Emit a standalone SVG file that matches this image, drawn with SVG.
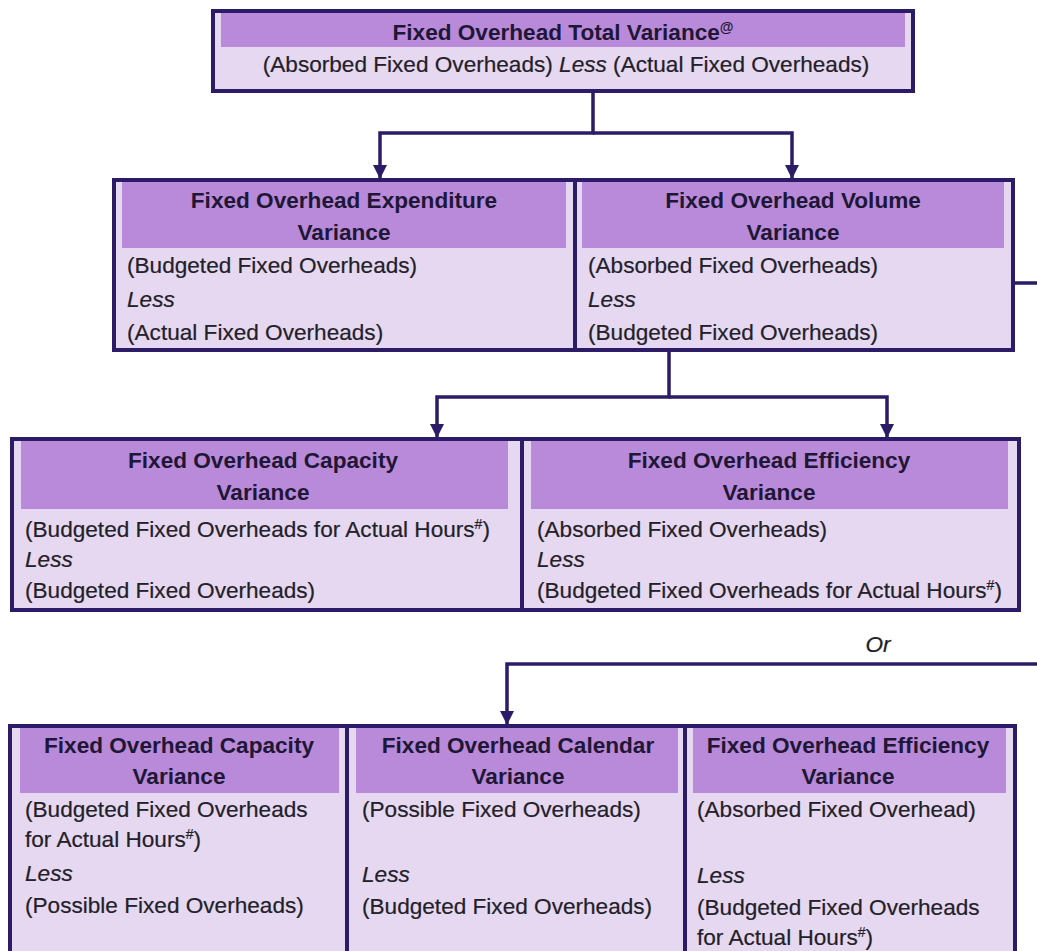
<svg xmlns="http://www.w3.org/2000/svg" width="1037" height="951" viewBox="0 0 1037 951">
  <style>
    .box { fill: #e6d8f1; stroke: #2c1c68; stroke-width: 4; }
    .band { fill: #b98ad9; }
    .hd { font-family: "Liberation Sans", Arial, sans-serif; font-size: 22.6px; font-weight: bold; fill: #1e1736; text-anchor: middle; }
    .bd { font-family: "Liberation Sans", Arial, sans-serif; font-size: 22.6px; fill: #222028; stroke: #222028; stroke-width: 0.2; }
    .it { font-style: italic; }
    .sup { font-size: 14px; }
    .wire { fill: none; stroke: #2c1c68; stroke-width: 3.5; }
  </style>
  <defs>
    <marker id="arrow" markerUnits="userSpaceOnUse" markerWidth="14" markerHeight="14" viewBox="0 0 14 14" refX="13" refY="7" orient="auto">
      <path d="M0,0 L14,7 L0,14 Z" fill="#2c1c68"/>
    </marker>
  </defs>

  <rect width="1037" height="951" fill="#ffffff"/>

  <!-- connectors -->
  <g id="connectors">
    <path class="wire" d="M593,93 V133 H380 V178" marker-end="url(#arrow)"/>
    <path class="wire" d="M593,133 H792 V178" marker-end="url(#arrow)"/>
    <path class="wire" d="M669,352 V397 H437 V437" marker-end="url(#arrow)"/>
    <path class="wire" d="M669,397 H887 V437" marker-end="url(#arrow)"/>
    <path class="wire" d="M1015,283 H1040"/>
    <path class="wire" d="M1040,664 H507 V724" marker-end="url(#arrow)"/>
    <text class="bd it" x="878" y="652" font-size="20" text-anchor="middle">Or</text>
  </g>

  <!-- total variance -->
  <g id="total">
    <rect class="box" x="213" y="11" width="700" height="80"/>
    <rect class="band" x="221" y="13" width="684" height="34"/>
    <text class="hd" x="563" y="40">Fixed Overhead Total Variance<tspan class="sup" dy="-8">@</tspan></text>
    <text class="bd" x="566" y="72" text-anchor="middle">(Absorbed Fixed Overheads) <tspan class="it">Less</tspan> (Actual Fixed Overheads)</text>
  </g>

  <!-- expenditure variance -->
  <g id="expenditure">
    <rect class="box" x="114" y="180" width="461" height="170"/>
    <rect class="band" x="122" y="182" width="444" height="66"/>
    <text class="hd" x="344" y="208">Fixed Overhead Expenditure</text>
    <text class="hd" x="344" y="240">Variance</text>
    <text class="bd" x="127" y="273">(Budgeted Fixed Overheads)</text>
    <text class="bd it" x="127" y="307">Less</text>
    <text class="bd" x="127" y="340">(Actual Fixed Overheads)</text>
  </g>

  <!-- volume variance -->
  <g id="volume">
    <rect class="box" x="575" y="180" width="438" height="170"/>
    <rect class="band" x="582" y="182" width="422" height="66"/>
    <text class="hd" x="793" y="208">Fixed Overhead Volume</text>
    <text class="hd" x="793" y="240">Variance</text>
    <text class="bd" x="588" y="273">(Absorbed Fixed Overheads)</text>
    <text class="bd it" x="588" y="307">Less</text>
    <text class="bd" x="588" y="340">(Budgeted Fixed Overheads)</text>
  </g>

  <!-- capacity variance (volume split) -->
  <g id="capacity-a">
    <rect class="box" x="12" y="439" width="510" height="171"/>
    <rect class="band" x="21" y="441" width="487" height="68"/>
    <text class="hd" x="263" y="468">Fixed Overhead Capacity</text>
    <text class="hd" x="263" y="500">Variance</text>
    <text class="bd" x="25" y="537">(Budgeted Fixed Overheads for Actual Hours<tspan class="sup" dy="-8">#</tspan><tspan dy="8">)</tspan></text>
    <text class="bd it" x="25" y="567">Less</text>
    <text class="bd" x="25" y="598">(Budgeted Fixed Overheads)</text>
  </g>

  <!-- efficiency variance (volume split) -->
  <g id="efficiency-a">
    <rect class="box" x="522" y="439" width="497" height="171"/>
    <rect class="band" x="531" y="441" width="477" height="68"/>
    <text class="hd" x="769" y="468">Fixed Overhead Efficiency</text>
    <text class="hd" x="769" y="500">Variance</text>
    <text class="bd" x="537" y="537">(Absorbed Fixed Overheads)</text>
    <text class="bd it" x="537" y="567">Less</text>
    <text class="bd" x="537" y="598">(Budgeted Fixed Overheads for Actual Hours<tspan class="sup" dy="-8">#</tspan><tspan dy="8">)</tspan></text>
  </g>

  <!-- capacity variance (three-way split) -->
  <g id="capacity-b">
    <rect class="box" x="10" y="726" width="337" height="260"/>
    <rect class="band" x="20" y="728" width="319" height="65"/>
    <text class="hd" x="179" y="753">Fixed Overhead Capacity</text>
    <text class="hd" x="179" y="784">Variance</text>
    <text class="bd" x="25" y="817">(Budgeted Fixed Overheads</text>
    <text class="bd" x="25" y="847">for Actual Hours<tspan class="sup" dy="-8">#</tspan><tspan dy="8">)</tspan></text>
    <text class="bd it" x="25" y="881">Less</text>
    <text class="bd" x="25" y="913">(Possible Fixed Overheads)</text>
  </g>

  <!-- calendar variance -->
  <g id="calendar">
    <rect class="box" x="347" y="726" width="338" height="260"/>
    <rect class="band" x="356" y="728" width="322" height="65"/>
    <text class="hd" x="518" y="753">Fixed Overhead Calendar</text>
    <text class="hd" x="518" y="784">Variance</text>
    <text class="bd" x="362" y="817">(Possible Fixed Overheads)</text>
    <text class="bd it" x="362" y="882">Less</text>
    <text class="bd" x="362" y="914">(Budgeted Fixed Overheads)</text>
  </g>

  <!-- efficiency variance (three-way split) -->
  <g id="efficiency-b">
    <rect class="box" x="685" y="726" width="330" height="260"/>
    <rect class="band" x="693" y="728" width="313" height="65"/>
    <text class="hd" x="848" y="753">Fixed Overhead Efficiency</text>
    <text class="hd" x="848" y="784">Variance</text>
    <text class="bd" x="697" y="817">(Absorbed Fixed Overhead)</text>
    <text class="bd it" x="697" y="883">Less</text>
    <text class="bd" x="697" y="915">(Budgeted Fixed Overheads</text>
    <text class="bd" x="697" y="945">for Actual Hours<tspan class="sup" dy="-8">#</tspan><tspan dy="8">)</tspan></text>
  </g>
</svg>
